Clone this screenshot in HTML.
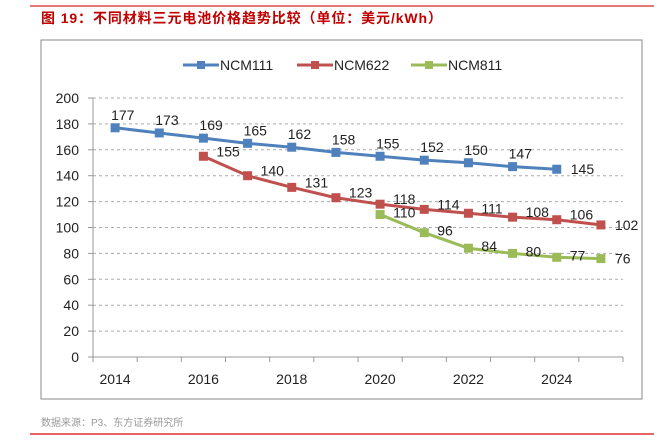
<!DOCTYPE html>
<html><head><meta charset="utf-8"><style>
body{margin:0;background:#fff;width:654px;height:436px;overflow:hidden;font-family:"Liberation Sans","Noto Sans CJK SC",sans-serif}
</style></head><body>
<svg width="654" height="436" xmlns="http://www.w3.org/2000/svg">
<line x1="30" y1="6" x2="654" y2="6" stroke="#e04b4b" stroke-width="1.5"/>
<text x="41" y="23" font-size="14" letter-spacing="0.9" font-weight="bold" fill="#c00000" font-family="Liberation Sans,Noto Sans CJK SC,sans-serif">图 19：不同材料三元电池价格趋势比较（单位：美元/kWh）</text>
<rect x="41" y="40" width="601" height="359" fill="none" stroke="#888" stroke-width="1"/>
<g id="axes"></g>
<g id="series"></g>
<g id="legend"></g>
<text x="41" y="426" font-size="10" fill="#999">数据来源：P3、东方证券研究所</text>
<line x1="30" y1="434" x2="654" y2="434" stroke="#e03030" stroke-width="1.5"/>
</svg>
<script>
const years=[2014,2015,2016,2017,2018,2019,2020,2021,2022,2023,2024,2025];
const xTickLabels=["2014","2016","2018","2020","2022","2024"];
const yTicks=[0,20,40,60,80,100,120,140,160,180,200];
const ncm111Years=[2014,2015,2016,2017,2018,2019,2020,2021,2022,2023,2024];
const ncm111=[177,173,169,165,162,158,155,152,150,147,145];
const ncm622Years=[2016,2017,2018,2019,2020,2021,2022,2023,2024,2025];
const ncm622=[155,140,131,123,118,114,111,108,106,102];
const ncm811Years=[2020,2021,2022,2023,2024,2025];
const ncm811=[110,96,84,80,77,76];
const NS="http://www.w3.org/2000/svg";
const L=93,R=623,Y0=357,Y1=98;
const bw=(R-L)/years.length;
function x(yr){return L+bw*(yr-years[0])+bw/2;}
function y(v){return Y0-(v/200)*(Y0-Y1);}
function mk(t,a,p){const e=document.createElementNS(NS,t);for(const k in a)e.setAttribute(k,a[k]);p.appendChild(e);return e;}
const ax=document.getElementById('axes');
yTicks.forEach(v=>{
 if(v>0){
  const g=mk('line',{x1:L,x2:R,y1:y(v),y2:y(v),stroke:'#aaa','stroke-dasharray':'3,3'},ax);
  
  
 }
 const l=mk('line',{x1:L-5,x2:L,y1:y(v),y2:y(v),stroke:'#999'},ax);
 
 
 const t=mk('text',{x:L-14,y:y(v)+5,'text-anchor':'end','font-size':'14',fill:'#222'},ax);t.textContent=v;
 
 
});
let a=mk('line',{x1:L,x2:L,y1:Y1,y2:Y0,stroke:'#999'},ax);


a=mk('line',{x1:L,x2:R,y1:Y0,y2:Y0,stroke:'#999'},ax);


for(let i=0;i<=years.length;i++){
 const l=mk('line',{x1:L+i*bw,x2:L+i*bw,y1:Y0,y2:Y0+5,stroke:'#999'},ax);
 
 
}
xTickLabels.forEach(s=>{
 const t=mk('text',{x:x(+s),y:Y0+27,'text-anchor':'middle','font-size':'14',fill:'#222'},ax);t.textContent=s;
 
 
});
const sg=document.getElementById('series');
function series(name,yrs,vals,col,lbl){
 const g=mk('g',{},sg);
 
 
 const pl=mk('polyline',{points:yrs.map((yr,i)=>x(yr)+','+y(vals[i])).join(' '),fill:'none',stroke:col,'stroke-width':3},g);
 
 
 yrs.forEach((yr,i)=>{
  const r=mk('rect',{x:x(yr)-4.5,y:y(vals[i])-4.5,width:9,height:9,fill:col},g);
  
  
  const last=i===yrs.length-1;
  const o=last?[14,5]:lbl;
  const t=mk('text',{x:x(yr)+o[0],y:y(vals[i])+o[1],'font-size':'14',fill:'#222'},g);t.textContent=vals[i];
  
  
 });
}
series('ncm111',ncm111Years,ncm111,'#4f81bd',[-4,-8]);
series('ncm622',ncm622Years,ncm622,'#c0504d',[13,0]);
series('ncm811',ncm811Years,ncm811,'#9bbb59',[13,3]);
const lg=document.getElementById('legend');
[['NCM111','#4f81bd',183],['NCM622','#c0504d',297],['NCM811','#9bbb59',411]].forEach(([n,c,lx])=>{
 const g=mk('g',{},lg);
 
 
 mk('line',{x1:lx,x2:lx+36,y1:65,y2:65,stroke:c,'stroke-width':3},g);
 mk('rect',{x:lx+14,y:61,width:8,height:8,fill:c},g);
 const t=mk('text',{x:lx+37,y:70,'font-size':'14',fill:'#222'},g);t.textContent=n;
});
</script>
</body></html>
